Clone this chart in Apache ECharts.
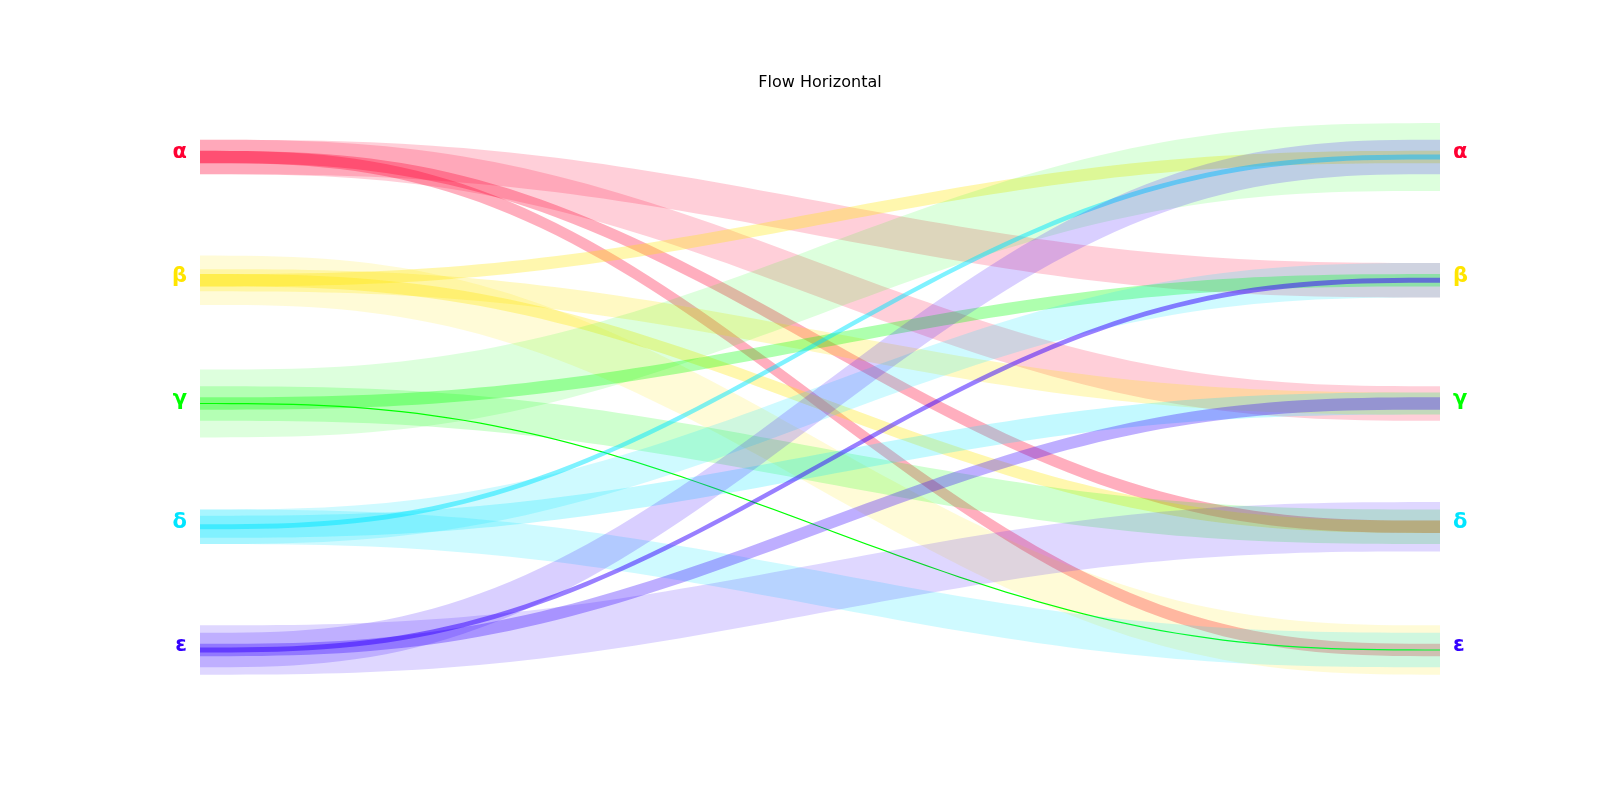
<!DOCTYPE html>
<html>
<head>
<meta charset="utf-8">
<title>Flow Horizontal</title>
<script src="https://cdn.jsdelivr.net/npm/echarts@6/dist/echarts.min.js"></script>
<style>
  html, body { margin: 0; padding: 0; background: #fff; }
  #chart { width: 1600px; height: 800px; }
</style>
</head>
<body>
<div id="chart"></div>
<script>
// nodes, top to bottom (same order on both sides)
const nodes = ['α', 'β', 'γ', 'δ', 'ε'];
const nodeColors = ['#ff0033', '#ffe500', '#00ff00', '#00e5ff', '#3300ff'];

// flows: source index -> target index, with a value
const flowSource = [0, 0, 0, 0, 1, 1, 1, 1, 2, 2, 2, 2, 3, 3, 3, 3, 4, 4, 4, 4];
const flowTarget = [1, 2, 3, 4, 0, 2, 3, 4, 0, 1, 3, 4, 0, 1, 2, 4, 0, 1, 2, 3];
const flowValue  = [28, 28, 10, 10, 10, 18, 10, 40, 55, 10, 28, 1, 4, 28, 18, 28, 28, 4, 10, 40];

// value -> band thickness in y units
const thickness = 0.01;

function ease(t) {
    // smooth s-curve between the two sides
    return t * t * t * (t * (t * 6 - 15) + 10);
}

const flowData = flowSource.map((s, i) => [s, flowTarget[i], flowValue[i]]);

function renderFlow(params, api) {
    const s = api.value(0);
    const t = api.value(1);
    const v = api.value(2);
    const half = v * thickness / 2;
    const steps = 80;
    const top = [];
    const bottom = [];
    for (let k = 0; k <= steps; k++) {
        const x = k / steps;
        const y = s + (t - s) * ease(x);
        top.push(api.coord([x, y - half]));
        bottom.unshift(api.coord([x, y + half]));
    }
    return {
        type: 'polygon',
        shape: { points: top.concat(bottom) },
        style: {
            fill: nodeColors[s],
            opacity: Math.min(1, 1 / Math.sqrt(v))
        }
    };
}

// labels sit a few px above the band centres
const labelStyle = {
    formatter: v => nodes[v],
    color: (v) => nodeColors[v],
    fontSize: 21,
    fontWeight: 'bold',
    fontFamily: 'DejaVu Sans',
    verticalAlign: 'bottom',
    lineHeight: 8
};

const chart = echarts.init(document.getElementById('chart'));
chart.setOption({
    animation: false,
    title: {
        text: 'Flow Horizontal',
        left: 815,
        top: 70,
        textAlign: 'center',
        textStyle: { fontSize: 16, fontWeight: 'normal', color: '#000', fontFamily: 'DejaVu Sans' }
    },
    grid: { left: 200, right: 160, top: 157, bottom: 150 },
    xAxis: {
        type: 'value', min: 0, max: 1,
        show: false
    },
    yAxis: [
        {
            type: 'value', min: 0, max: 4, interval: 1, inverse: true,
            position: 'left',
            axisLine: { show: false }, axisTick: { show: false }, splitLine: { show: false },
            axisLabel: Object.assign({ margin: 13 }, labelStyle)
        },
        {
            type: 'value', min: 0, max: 4, interval: 1, inverse: true,
            position: 'right',
            axisLine: { show: false }, axisTick: { show: false }, splitLine: { show: false },
            axisLabel: Object.assign({ margin: 13 }, labelStyle)
        }
    ],
    series: [{
        type: 'custom',
        renderItem: renderFlow,
        clip: false,
        encode: { x: -1, y: -1 },
        data: flowData
    }]
});
</script>
</body>
</html>
